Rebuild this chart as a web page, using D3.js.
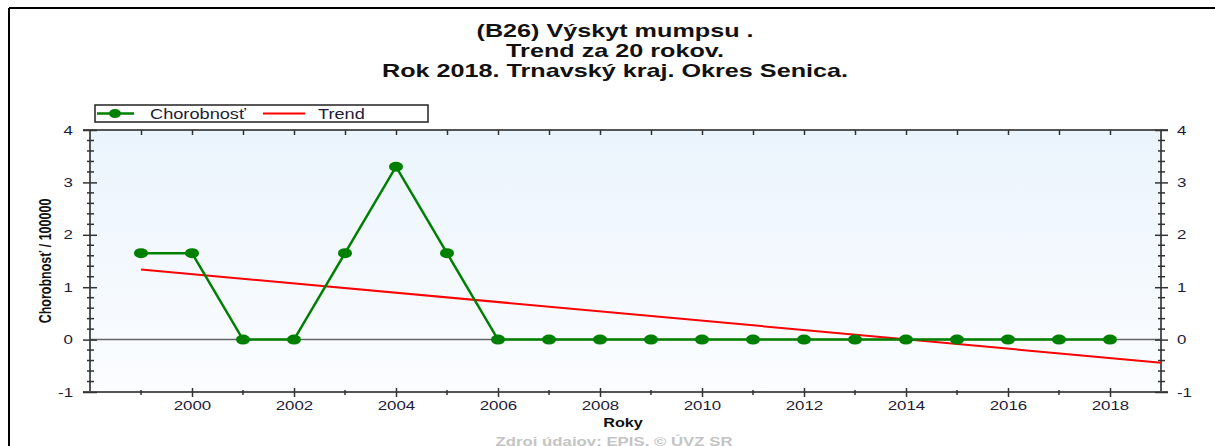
<!DOCTYPE html>
<html>
<head>
<meta charset="utf-8">
<title>Výskyt mumpsu</title>
<script src="https://cdn.jsdelivr.net/npm/d3@7"></script>
<style>
  body { margin: 0; background: #fff; }
  svg { display: block; font-family: "Liberation Sans", Arial, sans-serif; }
</style>
</head>
<body>
<svg id="chart" width="1215" height="446"></svg>
<script>
// data
var years = [1999, 2000, 2001, 2002, 2003, 2004, 2005, 2006, 2007, 2008,
             2009, 2010, 2011, 2012, 2013, 2014, 2015, 2016, 2017, 2018];
var incidence = [1.65, 1.65, 0, 0, 1.65, 3.3, 1.65, 0, 0, 0,
                 0, 0, 0, 0, 0, 0, 0, 0, 0, 0];
var trendYears = [1999, 2019];
var trendValues = [1.34, -0.44];
var xLabelYears = [2000, 2002, 2004, 2006, 2008, 2010, 2012, 2014, 2016, 2018];
var yTicks = [-1, 0, 1, 2, 3, 4];
var yMinorTicks = [-0.8, -0.6, -0.4, -0.2, 0.2, 0.4, 0.6, 0.8, 1.2, 1.4, 1.6, 1.8,
                   2.2, 2.4, 2.6, 2.8, 3.2, 3.4, 3.6, 3.8];
var titleLines = ["(B26) Výskyt mumpsu .", "Trend za 20 rokov.", "Rok 2018. Trnavský kraj. Okres Senica."];

var svg = d3.select("#chart");
var pLeft = 90, pRight = 1161, pTop = 130, pBottom = 392;
var axisColor = "#555";

var x = d3.scaleLinear().domain([1998, 2019]).range([pLeft, pRight]);
var y = d3.scaleLinear().domain([-1, 4]).range([pBottom, pTop]);

// the original picture is stretched sideways, so texts get a horizontal scale
function stretch(sel, sx) {
    sel.each(function() {
        var t = d3.select(this);
        var tx = +t.attr("x") || 0, ty = +t.attr("y") || 0;
        t.attr("x", 0).attr("y", 0)
         .attr("transform", "translate(" + tx + "," + ty + ") scale(" + sx + ",1)");
    });
}
var plain = function(d) { return String(d); };

// frame of the picture
svg.append("line").attr("x1", 9).attr("x2", 1215).attr("y1", 8).attr("y2", 8)
    .attr("stroke", "#000").attr("stroke-width", 2);
svg.append("line").attr("x1", 9).attr("x2", 9).attr("y1", 8).attr("y2", 446)
    .attr("stroke", "#000").attr("stroke-width", 2);

// title
var title = svg.append("g").selectAll("text")
    .data(titleLines)
    .enter()
    .append("text")
    .attr("x", 615)
    .attr("y", function(d, i) { return 36.5 + i * 20; })
    .attr("text-anchor", "middle")
    .style("font-size", "18px")
    .style("font-weight", "bold")
    .attr("fill", "#111")
    .text(function(d) { return d; });
stretch(title, 1.4);

// plot background
var grad = svg.append("defs").append("linearGradient")
    .attr("id", "bg").attr("x1", 0).attr("y1", 0).attr("x2", 0).attr("y2", 1);
grad.append("stop").attr("offset", "0%").attr("stop-color", "#ebf4fd");
grad.append("stop").attr("offset", "100%").attr("stop-color", "#fbfdff");
svg.append("rect")
    .attr("x", pLeft).attr("y", pTop)
    .attr("width", pRight - pLeft).attr("height", pBottom - pTop)
    .attr("fill", "url(#bg)");

// zero line
svg.append("line")
    .attr("x1", pLeft).attr("x2", pRight)
    .attr("y1", y(0)).attr("y2", y(0))
    .attr("stroke", "#666").attr("stroke-width", 1.5);

function styleAxis(g) {
    g.select(".domain").remove();
    g.selectAll(".tick line").attr("stroke", "#333").attr("stroke-width", 1.5);
    g.selectAll("text").attr("fill", "#1c1c3a").style("font-size", "12.5px");
}

// frame lines of the plot
[[pLeft - 7, pTop, pRight + 7, pTop], [pLeft - 7, pBottom, pRight + 7, pBottom],
 [pLeft, pTop, pLeft, pBottom], [pRight, pTop, pRight, pBottom]].forEach(function(l) {
    svg.append("line")
        .attr("x1", l[0]).attr("y1", l[1]).attr("x2", l[2]).attr("y2", l[3])
        .attr("stroke", axisColor).attr("stroke-width", 2);
});

var gLeft = svg.append("g")
    .attr("transform", "translate(" + pLeft + ",0)")
    .call(d3.axisLeft(y).tickValues(yTicks).tickSize(7).tickPadding(10).tickFormat(plain));
styleAxis(gLeft);
gLeft.selectAll(".tick line").attr("x1", 7);
stretch(gLeft.selectAll("text"), 1.35);

var gRight = svg.append("g")
    .attr("transform", "translate(" + pRight + ",0)")
    .call(d3.axisRight(y).tickValues(yTicks).tickSize(7).tickPadding(9).tickFormat(plain));
styleAxis(gRight);
gRight.selectAll(".tick line").attr("x1", -6);
stretch(gRight.selectAll("text"), 1.35);

// minor ticks on the value axes
[pLeft, pRight].forEach(function(ax) {
    svg.append("g").selectAll("line")
        .data(yMinorTicks)
        .enter()
        .append("line")
        .attr("x1", ax - 3).attr("x2", ax + 4)
        .attr("y1", function(d) { return y(d); })
        .attr("y2", function(d) { return y(d); })
        .attr("stroke", "#333").attr("stroke-width", 1.5);
});

var gBottom = svg.append("g")
    .attr("transform", "translate(0," + pBottom + ")")
    .call(d3.axisBottom(x).tickValues(xLabelYears).tickSize(5).tickPadding(4).tickFormat(plain));
styleAxis(gBottom);
gBottom.selectAll(".tick line").attr("y1", -4);
stretch(gBottom.selectAll("text"), 1.35);

// odd years: small ticks on bottom
svg.append("g").selectAll("line")
    .data(years.filter(function(d) { return d % 2 === 1; }))
    .enter()
    .append("line")
    .attr("x1", function(d) { return x(d); })
    .attr("x2", function(d) { return x(d); })
    .attr("y1", pBottom - 2).attr("y2", pBottom + 3)
    .attr("stroke", "#333").attr("stroke-width", 1.5);

// top axis: tick every year pointing down
var gTop = svg.append("g")
    .attr("transform", "translate(0," + pTop + ")")
    .call(d3.axisBottom(x).tickValues(years).tickSize(5).tickFormat(""));
styleAxis(gTop);

// axis titles
var roky = svg.append("text")
    .attr("x", 623).attr("y", 427)
    .attr("text-anchor", "middle")
    .style("font-size", "12.5px").style("font-weight", "bold")
    .attr("fill", "#111")
    .text("Roky");
stretch(roky, 1.3);

svg.append("text")
    .attr("transform", "translate(51,261) rotate(-90) scale(1,1.3)")
    .attr("text-anchor", "middle")
    .style("font-size", "12.5px").style("font-weight", "bold")
    .attr("fill", "#111")
    .text("Chorobnosť / 100000");

var src = svg.append("text")
    .attr("x", 614).attr("y", 446)
    .attr("text-anchor", "middle")
    .style("font-size", "12px").style("font-weight", "bold")
    .attr("fill", "#c4c4c4")
    .text("Zdroj údajov: EPIS, © ÚVZ SR");
stretch(src, 1.4);

var line = d3.line()
    .x(function(d) { return x(d[0]); })
    .y(function(d) { return y(d[1]); });

// trend line
svg.append("path")
    .datum(d3.zip(trendYears, trendValues))
    .attr("fill", "none")
    .attr("stroke", "#ff0000")
    .attr("stroke-width", 2)
    .attr("d", line);

// incidence line with markers
var pts = d3.zip(years, incidence);
svg.append("path")
    .datum(pts)
    .attr("fill", "none")
    .attr("stroke", "#008000")
    .attr("stroke-width", 2.5)
    .attr("d", line);

svg.append("g").selectAll("ellipse")
    .data(pts)
    .enter()
    .append("ellipse")
    .attr("cx", function(d) { return x(d[0]); })
    .attr("cy", function(d) { return y(d[1]); })
    .attr("rx", 7).attr("ry", 5)
    .attr("fill", "#008000");

// legend
var lg = svg.append("g");
lg.append("rect")
    .attr("x", 95).attr("y", 105).attr("width", 333).attr("height", 17)
    .attr("fill", "#fff").attr("stroke", "#222").attr("stroke-width", 1.5);
lg.append("line").attr("x1", 97).attr("x2", 134).attr("y1", 113.5).attr("y2", 113.5)
    .attr("stroke", "#008000").attr("stroke-width", 2.5);
lg.append("ellipse").attr("cx", 115).attr("cy", 113.5).attr("rx", 6).attr("ry", 4.5)
    .attr("fill", "#008000");
var lt1 = lg.append("text").attr("x", 150).attr("y", 118.5)
    .style("font-size", "14px").attr("fill", "#1c1c3a").text("Chorobnosť");
lg.append("line").attr("x1", 263).attr("x2", 305).attr("y1", 113.5).attr("y2", 113.5)
    .attr("stroke", "#ff0000").attr("stroke-width", 2);
var lt2 = lg.append("text").attr("x", 318).attr("y", 118.5)
    .style("font-size", "14px").attr("fill", "#1c1c3a").text("Trend");
stretch(lt1, 1.3);
stretch(lt2, 1.3);
</script>
</body>
</html>
